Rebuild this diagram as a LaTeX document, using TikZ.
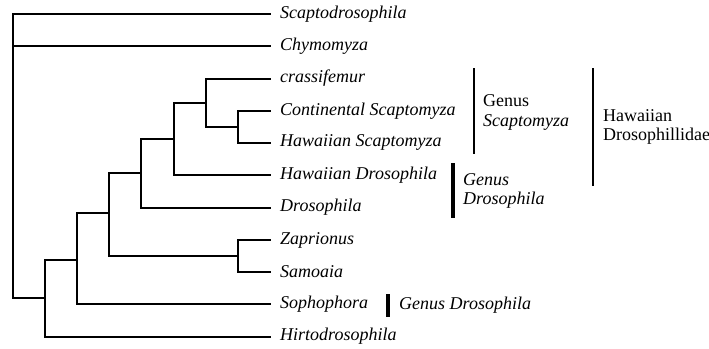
\documentclass[tikz,border=0pt]{standalone}
\usepackage{fontspec}
\setmainfont{Liberation Serif}
\usetikzlibrary{positioning}

\begin{document}
\begin{tikzpicture}[
    x=1pt, y=-1pt,
    taxon/.style={anchor=west, inner xsep=10pt, inner ysep=0pt,
                  font=\itshape\fontsize{18}{19.5}\selectfont},
    group/.style={anchor=west, align=left, inner sep=0pt,
                  font=\fontsize{18}{19.5}\selectfont},
    branch/.style={line width=2pt, line cap=rect},
    thinbar/.style={line width=1.8pt},
    thickbar/.style={line width=4pt}
  ]
    \useasboundingbox (0,0) rectangle (709,348);
    % leaves
    \node[taxon] (scapto) at (270,14)    {Scaptodrosophila};
    \node[taxon] (chymo)  at (270,46)    {Chymomyza};
    \node[taxon] (crassi) at (270,78.5)  {crassifemur};
    \node[taxon] (contsc) at (270,111)   {Continental Scaptomyza};
    \node[taxon] (hawsc)  at (270,142.5) {Hawaiian Scaptomyza};
    \node[taxon] (hawdro) at (270,175)   {Hawaiian Drosophila};
    \node[taxon] (droso)  at (270,207.5) {Drosophila};
    \node[taxon] (zapr)   at (270,240)   {Zaprionus};
    \node[taxon] (samo)   at (270,272)   {Samoaia};
    \node[taxon] (sopho)  at (270,304)   {Sophophora};
    \node[taxon] (hirto)  at (270,336.5) {Hirtodrosophila};
    % internal nodes
    \coordinate (root) at (13,298);
    \coordinate (nA) at (45,298);
    \coordinate (nB) at (77,260);
    \coordinate (nC) at (109,213);
    \coordinate (nD) at (141,173);
    \coordinate (nE) at (174,139);
    \coordinate (nF) at (206,103);
    \coordinate (nG) at (238,127);
    \coordinate (nH) at (238,256);
    % branches
    \draw[branch] (root) |- (scapto.west);
    \draw[branch] (root) |- (chymo.west);
    \draw[branch] (root) -- (nA);
    \draw[branch] (nA) |- (nB);
    \draw[branch] (nA) |- (hirto.west);
    \draw[branch] (nB) |- (nC);
    \draw[branch] (nB) |- (sopho.west);
    \draw[branch] (nC) |- (nD);
    \draw[branch] (nC) |- (nH);
    \draw[branch] (nD) |- (nE);
    \draw[branch] (nD) |- (droso.west);
    \draw[branch] (nE) |- (nF);
    \draw[branch] (nE) |- (hawdro.west);
    \draw[branch] (nF) |- (crassi.west);
    \draw[branch] (nF) |- (nG);
    \draw[branch] (nG) |- (contsc.west);
    \draw[branch] (nG) |- (hawsc.west);
    \draw[branch] (nH) |- (zapr.west);
    \draw[branch] (nH) |- (samo.west);
    % group labels
    \draw[thinbar] (474,68) -- (474,154);
    \node[group] (gscap) at (483,112.5) {Genus\\\textit{Scaptomyza}};
    \draw[thinbar] (593,68) -- (593,186);
    \node[group] (hawaii) at (603,127) {Hawaiian\\Drosophillidae};
    \draw[thickbar] (453,163) -- (453,218);
    \node[group, font=\itshape\fontsize{18}{19.5}\selectfont] (gdros) at (463,191) {Genus\\Drosophila};
    \draw[thickbar] (388,294) -- (388,317);
    \node[group, font=\itshape\fontsize{18}{19.5}\selectfont] (gsoph) at (399,305) {Genus Drosophila};
\end{tikzpicture}
\end{document}
